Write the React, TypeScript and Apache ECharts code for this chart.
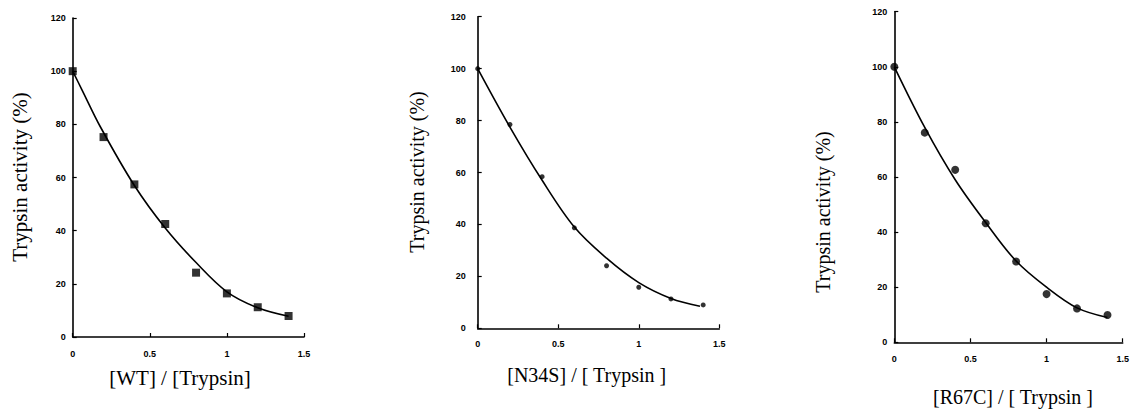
import React, { useEffect, useRef } from "react";
import * as echarts from "echarts";

// Measured points (ratio, trypsin activity %)
const ratioX = [0, 0.2, 0.4, 0.6, 0.8, 1.0, 1.2, 1.4];
const wtPoints = [100, 75.2, 57.4, 42.5, 24.2, 16.4, 11.2, 7.9];
const n34sPoints = [100, 78.5, 58.4, 38.7, 24.1, 15.8, 11.3, 9.0];
const r67cPoints = [100, 76.1, 62.6, 43.2, 29.3, 17.5, 12.3, 9.9];

// Fitted curves
const wtCurveX = [0, 0.06, 0.18, 0.4, 0.6, 0.8, 1.0, 1.2, 1.4];
const wtCurveY = [100, 93, 79, 57, 41, 28, 17, 11, 7.8];
const n34sCurveX = [0, 0.2, 0.4, 0.6, 0.8, 1.0, 1.2, 1.38];
const n34sCurveY = [100, 77.5, 57, 39, 27, 17.6, 11.5, 8.5];
const r67cCurveX = [0, 0.2, 0.4, 0.6, 0.8, 1.0, 1.2, 1.4];
const r67cCurveY = [100, 78, 59, 43.5, 29.5, 20, 12.5, 9];

const xTicks = { min: 0, max: 1.5, interval: 0.5 };
const yTicks = { min: 0, max: 120, interval: 20 };

const xNames = ["[WT] / [Trypsin]", "[N34S] / [ Trypsin ]", "[R67C] / [ Trypsin ]"];
const yName = "Trypsin activity (%)";

const pair = (xs: number[], ys: number[]) => xs.map((x, i) => [x, ys[i]]);

export default function App() {
  const ref = useRef<HTMLDivElement>(null);
  useEffect(() => {
    if (!ref.current) return;
    const chart = echarts.init(ref.current, undefined, { renderer: "svg" });
    const grids = [
      { left: 72.7, top: 18, width: 231.3, height: 319 },
      { left: 477.7, top: 16.7, width: 241.6, height: 311.6 },
      { left: 894.3, top: 11.7, width: 228.4, height: 330.6 },
    ];
    const xLabelMargins = [12, 11, 12];
    const yLabelMargins = [7, 12, 7];
    const axisLine = { lineStyle: { color: "#000", width: 1.6 } };
    const axisTick = { inside: true, length: 4, lineStyle: { color: "#000", width: 1.2 } };
    const labelStyle = {
      color: "#000",
      fontFamily: "Liberation Sans",
      fontWeight: "bold" as const,
      fontSize: 9,
    };
    const xAxes = grids.map((_, i) => ({
      type: "value",
      gridIndex: i,
      ...xTicks,
      axisLine: { show: true, ...axisLine },
      axisTick,
      axisLabel: { ...labelStyle, margin: xLabelMargins[i] },
      splitLine: { show: false },
    }));
    const yAxes = grids.map((_, i) => ({
      type: "value",
      gridIndex: i,
      ...yTicks,
      axisLine: { show: true, ...axisLine },
      axisTick,
      axisLabel: { ...labelStyle, margin: yLabelMargins[i] },
      splitLine: { show: false },
    }));
    const pts = [wtPoints, n34sPoints, r67cPoints];
    const curves = [
      pair(wtCurveX, wtCurveY),
      pair(n34sCurveX, n34sCurveY),
      pair(r67cCurveX, r67cCurveY),
    ];
    const symbols = ["rect", "circle", "circle"];
    const sizes = [8, 5, 8];
    const series: any[] = [];
    for (let i = 0; i < 3; i++) {
      series.push({
        type: "line",
        xAxisIndex: i,
        yAxisIndex: i,
        data: curves[i],
        smooth: 0.35,
        showSymbol: false,
        lineStyle: { color: "#000", width: 1.6 },
        z: 2,
      });
      series.push({
        type: "scatter",
        xAxisIndex: i,
        yAxisIndex: i,
        data: pair(ratioX, pts[i]),
        symbol: symbols[i],
        symbolSize: sizes[i],
        itemStyle: { color: "#000" },
        z: 3,
      });
    }
    const mk = (text: string, x: number, y: number, size: number, rotate: boolean) => ({
      type: "text",
      x,
      y,
      rotation: rotate ? Math.PI / 2 : 0,
      style: {
        text,
        fontFamily: "Liberation Serif",
        fontSize: size,
        fill: "#000",
        textAlign: "center",
        textVerticalAlign: "middle",
      },
    });
    const graphic = [
      mk(xNames[0], 180, 378, 21, false),
      mk(yName, 20, 177, 21, true),
      mk(xNames[1], 586.7, 375, 20, false),
      mk(yName, 416.7, 172, 20, true),
      mk(xNames[2], 1013, 396.7, 20, false),
      mk(yName, 823.3, 212, 20, true),
    ];
    chart.setOption({
      animation: false,
      backgroundColor: "#fff",
      grid: grids,
      xAxis: xAxes,
      yAxis: yAxes,
      series,
      graphic,
    });
    return () => chart.dispose();
  }, []);
  return (
    <div
      ref={ref}
      style={{ position: "absolute", left: 0, top: 0, width: 1135, height: 414 }}
    />
  );
}
